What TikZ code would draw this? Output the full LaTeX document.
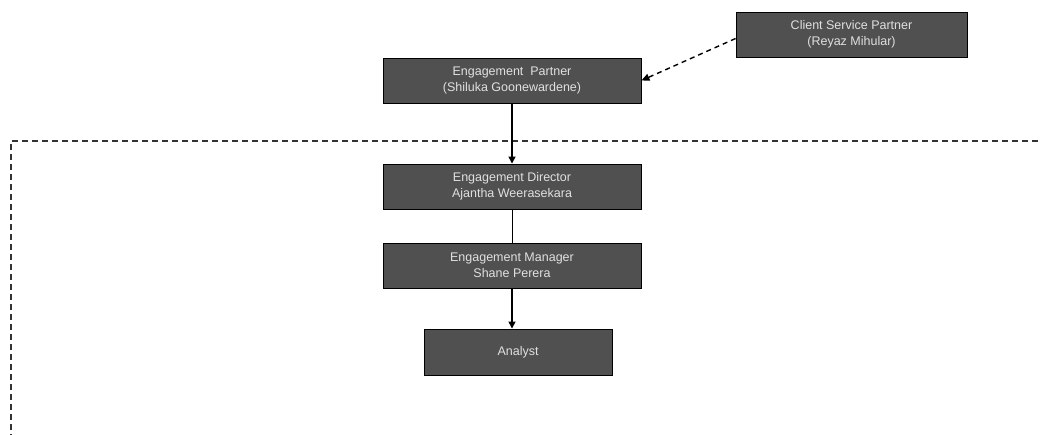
\documentclass[tikz,border=0pt]{standalone}
\usepackage{fontspec}
\setmainfont{Liberation Sans}
\usetikzlibrary{arrows.meta}
\definecolor{boxfill}{HTML}{505050}
\definecolor{boxtext}{HTML}{E0E0E0}
\definecolor{dashcol}{HTML}{333333}
\begin{document}
\begin{tikzpicture}[x=1pt,y=-1pt,
  orgbox/.style={draw=black,line width=0.9pt,fill=boxfill,text=boxtext,
    font=\fontsize{12.5}{16}\selectfont,align=center,inner sep=0pt},
  solidarrow/.style={line width=1.3pt,-{Triangle[length=7pt,width=7pt]}},
  dasharrow/.style={line width=1.4pt,dash pattern=on 5pt off 4pt,-{Triangle[length=8pt,width=7pt]}}]
\useasboundingbox (0,0) rectangle (1040,435);
\node[orgbox,minimum width=258pt,minimum height=45pt] (ep) at (512,80.5) {Engagement~ Partner\\(Shiluka Goonewardene)};
\node[orgbox,minimum width=231pt,minimum height=45pt] (csp) at (851.5,34.5) {Client Service Partner\\(Reyaz Mihular)};
\node[orgbox,minimum width=258pt,minimum height=45pt] (ed) at (512,186.5) {Engagement Director\\Ajantha Weerasekara};
\node[orgbox,minimum width=258pt,minimum height=45pt] (em) at (512,265.5) {Engagement Manager\\Shane Perera};
\node[orgbox,minimum width=188pt,minimum height=46pt] (an) at (518,352) {Analyst};
\coordinate (bl) at (11,440);
\coordinate (tl) at (11,141);
\coordinate (tr) at (1045,141);
\draw[dashcol,line width=1.5pt,dash pattern=on 6pt off 4pt] (bl) -- (tl) -- (tr);
\draw[dasharrow] (csp.west) ++(0,4) -- (ep.east);
\draw[solidarrow] (ep.south) -- (ed.north);
\draw[line width=0.6pt] (ed.south) -- (em.south |- em.north);
\draw[solidarrow] (em.south) -- (em.south |- an.north);
\end{tikzpicture}
\end{document}
